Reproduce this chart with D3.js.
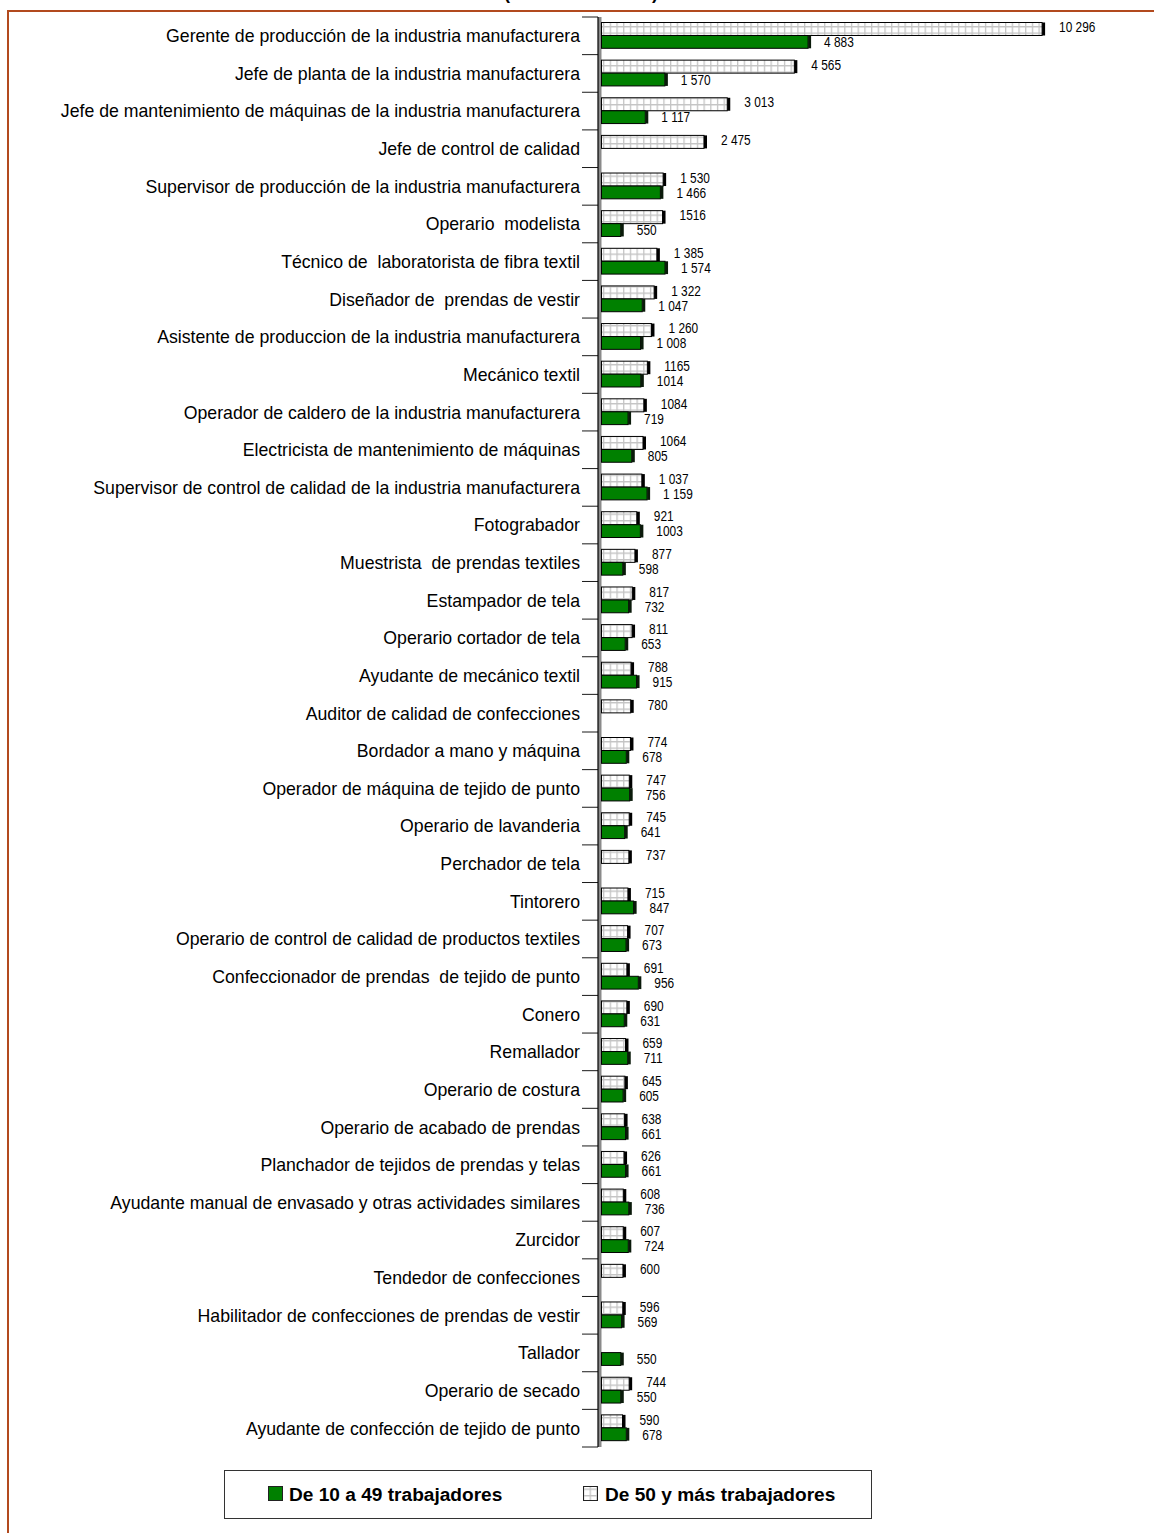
<!DOCTYPE html>
<html>
<head>
<meta charset="utf-8">
<script src="https://cdn.jsdelivr.net/npm/d3@7"></script>
<style>
  html, body { margin: 0; padding: 0; background: #fff; }
  svg { display: block; }
  text { white-space: pre; }
</style>
</head>
<body>
<svg id="chart" width="1154" height="1533"></svg>
<script>
// ---------------- DATA ----------------
const titleText = "(En nuevos soles)";
const seriesNames = ["De 10 a 49 trabajadores", "De 50 y más trabajadores"];
const categories = [
  "Gerente de producción de la industria manufacturera",
  "Jefe de planta de la industria manufacturera",
  "Jefe de mantenimiento de máquinas de la industria manufacturera",
  "Jefe de control de calidad",
  "Supervisor de producción de la industria manufacturera",
  "Operario  modelista",
  "Técnico de  laboratorista de fibra textil",
  "Diseñador de  prendas de vestir",
  "Asistente de produccion de la industria manufacturera",
  "Mecánico textil",
  "Operador de caldero de la industria manufacturera",
  "Electricista de mantenimiento de máquinas",
  "Supervisor de control de calidad de la industria manufacturera",
  "Fotograbador",
  "Muestrista  de prendas textiles",
  "Estampador de tela",
  "Operario cortador de tela",
  "Ayudante de mecánico textil",
  "Auditor de calidad de confecciones",
  "Bordador a mano y máquina",
  "Operador de máquina de tejido de punto",
  "Operario de lavanderia",
  "Perchador de tela",
  "Tintorero",
  "Operario de control de calidad de productos textiles",
  "Confeccionador de prendas  de tejido de punto",
  "Conero",
  "Remallador",
  "Operario de costura",
  "Operario de acabado de prendas",
  "Planchador de tejidos de prendas y telas",
  "Ayudante manual de envasado y otras actividades similares",
  "Zurcidor",
  "Tendedor de confecciones",
  "Habilitador de confecciones de prendas de vestir",
  "Tallador",
  "Operario de secado",
  "Ayudante de confección de tejido de punto"
];
// De 50 y más trabajadores
const values50 = [10296, 4565, 3013, 2475, 1530, 1516, 1385, 1322, 1260, 1165,
  1084, 1064, 1037, 921, 877, 817, 811, 788, 780, 774,
  747, 745, 737, 715, 707, 691, 690, 659, 645, 638,
  626, 608, 607, 600, 596, null, 744, 590];
const labels50 = ["10 296", "4 565", "3 013", "2 475", "1 530", "1516", "1 385", "1 322", "1 260", "1165",
  "1084", "1064", "1 037", "921", "877", "817", "811", "788", "780", "774",
  "747", "745", "737", "715", "707", "691", "690", "659", "645", "638",
  "626", "608", "607", "600", "596", "", "744", "590"];
// De 10 a 49 trabajadores
const values10 = [4883, 1570, 1117, null, 1466, 550, 1574, 1047, 1008, 1014,
  719, 805, 1159, 1003, 598, 732, 653, 915, null, 678,
  756, 641, null, 847, 673, 956, 631, 711, 605, 661,
  661, 736, 724, null, 569, 550, 550, 678];
const labels10 = ["4 883", "1 570", "1 117", "", "1 466", "550", "1 574", "1 047", "1 008", "1014",
  "719", "805", "1 159", "1003", "598", "732", "653", "915", "", "678",
  "756", "641", "", "847", "673", "956", "631", "711", "605", "661",
  "661", "736", "724", "", "569", "550", "550", "678"];

// ---------------- CHART ----------------
const svg = d3.select("#chart");
const GREEN = "#008000";
const FRAME = "#b24a1e";
const catFont = "'Liberation Sans', Arial, sans-serif";
const numFont = "'Liberation Sans', Arial, sans-serif";

const defs = svg.append("defs");
const pat = defs.append("pattern").attr("id", "grid")
  .attr("patternUnits", "userSpaceOnUse")
  .attr("width", 6.7).attr("height", 6.5);
pat.append("rect").attr("width", 6.7).attr("height", 6.5).attr("fill", "#fff");
pat.append("path").attr("d", "M0.6,0V6.5M0,0.6H6.7")
  .attr("stroke", "#c4c4c4").attr("stroke-width", 1.4).attr("fill", "none");

// frame
svg.append("line").attr("x1", 7).attr("x2", 1154).attr("y1", 11).attr("y2", 11)
  .attr("stroke", FRAME).attr("stroke-width", 2);
svg.append("line").attr("x1", 8).attr("x2", 8).attr("y1", 10).attr("y2", 1533)
  .attr("stroke", FRAME).attr("stroke-width", 2);

// title (clipped at top, as in the reference)
svg.append("text").attr("x", 581).attr("y", -1).attr("text-anchor", "middle")
  .attr("font-family", catFont).attr("font-weight", "bold").attr("font-size", 18)
  .text(titleText);

const x = d3.scaleLinear().domain([0, 10000]).range([597, 1029.3]);
const y = d3.scaleBand().domain(categories).range([17, 1447]);
const axisX = 598;
const wallW = 3.5;
const yTop = y.range()[0], yBot = y.range()[1];

// category boundary ticks
const bounds = d3.range(categories.length + 1).map(i => yTop + i * y.step());
svg.append("g").selectAll("line").data(bounds).join("line")
  .attr("x1", 582).attr("x2", axisX).attr("y1", d => d).attr("y2", d => d)
  .attr("stroke", "#1a1a1a").attr("stroke-width", 1);

// wall
svg.append("rect").attr("x", axisX).attr("y", yTop).attr("width", wallW).attr("height", yBot - yTop)
  .attr("fill", "#8a8a8a");
svg.append("line").attr("x1", axisX).attr("x2", axisX).attr("y1", yTop).attr("y2", yBot)
  .attr("stroke", "#000").attr("stroke-width", 1.2);

// axis labels
const axisG = svg.append("g").attr("transform", `translate(${axisX},0)`)
  .call(d3.axisLeft(y).tickSize(0).tickPadding(18));
axisG.select(".domain").remove();
axisG.selectAll("text").attr("font-family", catFont).attr("font-size", 17.7)
  .attr("fill", "#000").attr("dy", "0.36em");

const x0 = axisX + wallW;
const rows = categories.map((c, i) => ({c, v50: values50[i], v10: values10[i], l50: labels50[i], l10: labels10[i]}));

// pattern bars (50+)
const gb = svg.append("g");
const r50 = rows.filter(d => d.v50 != null);
gb.selectAll("rect.p").data(r50).join("rect").attr("class", "p")
  .attr("x", x0).attr("y", d => y(d.c) + 5.5)
  .attr("width", d => x(d.v50) - x0).attr("height", 13)
  .attr("fill", "url(#grid)").attr("stroke", "#000").attr("stroke-width", 1);
gb.selectAll("rect.ps").data(r50).join("rect").attr("class", "ps")
  .attr("x", d => x(d.v50)).attr("y", d => y(d.c) + 5.5)
  .attr("width", 3).attr("height", 13).attr("fill", "#000");

// green bars (10-49)
const r10 = rows.filter(d => d.v10 != null);
gb.selectAll("rect.g").data(r10).join("rect").attr("class", "g")
  .attr("x", x0).attr("y", d => y(d.c) + 18.5)
  .attr("width", d => x(d.v10) - x0).attr("height", 12.8)
  .attr("fill", GREEN).attr("stroke", "#000").attr("stroke-width", 1);
gb.selectAll("rect.gs").data(r10).join("rect").attr("class", "gs")
  .attr("x", d => x(d.v10)).attr("y", d => y(d.c) + 18.5)
  .attr("width", 3).attr("height", 12.8).attr("fill", "#0a1a0a");

// value labels (condensed horizontally, like Arial Narrow)
const gl = svg.append("g").attr("font-family", numFont).attr("font-size", 14.5).attr("fill", "#000");
gl.selectAll("text.l50").data(r50).join("text").attr("class", "l50")
  .attr("transform", d => `translate(${x(d.v50) + 3 + 14},${y(d.c) + 10}) scale(0.82,1)`)
  .attr("dy", "0.36em").text(d => d.l50);
gl.selectAll("text.l10").data(r10).join("text").attr("class", "l10")
  .attr("transform", d => `translate(${x(d.v10) + 3 + 13},${y(d.c) + 25}) scale(0.82,1)`)
  .attr("dy", "0.36em").text(d => d.l10);

// legend
const lg = svg.append("g");
lg.append("rect").attr("x", 224.5).attr("y", 1470.5).attr("width", 647).attr("height", 48)
  .attr("fill", "#fff").attr("stroke", "#333").attr("stroke-width", 1);
const legendItems = [
  {name: seriesNames[0], fill: GREEN, mx: 268, tx: 289},
  {name: seriesNames[1], fill: "url(#grid)", mx: 583, tx: 605}
];
legendItems.forEach(it => {
  lg.append("rect").attr("x", it.mx + 0.5).attr("y", 1486.5).attr("width", 14).attr("height", 14)
    .attr("fill", it.fill).attr("stroke", "#222").attr("stroke-width", 1);
  lg.append("text").attr("x", it.tx).attr("y", 1494).attr("dy", "0.36em")
    .attr("font-family", catFont).attr("font-weight", "bold").attr("font-size", 19.1)
    .attr("fill", "#000").text(it.name);
});
</script>
</body>
</html>
